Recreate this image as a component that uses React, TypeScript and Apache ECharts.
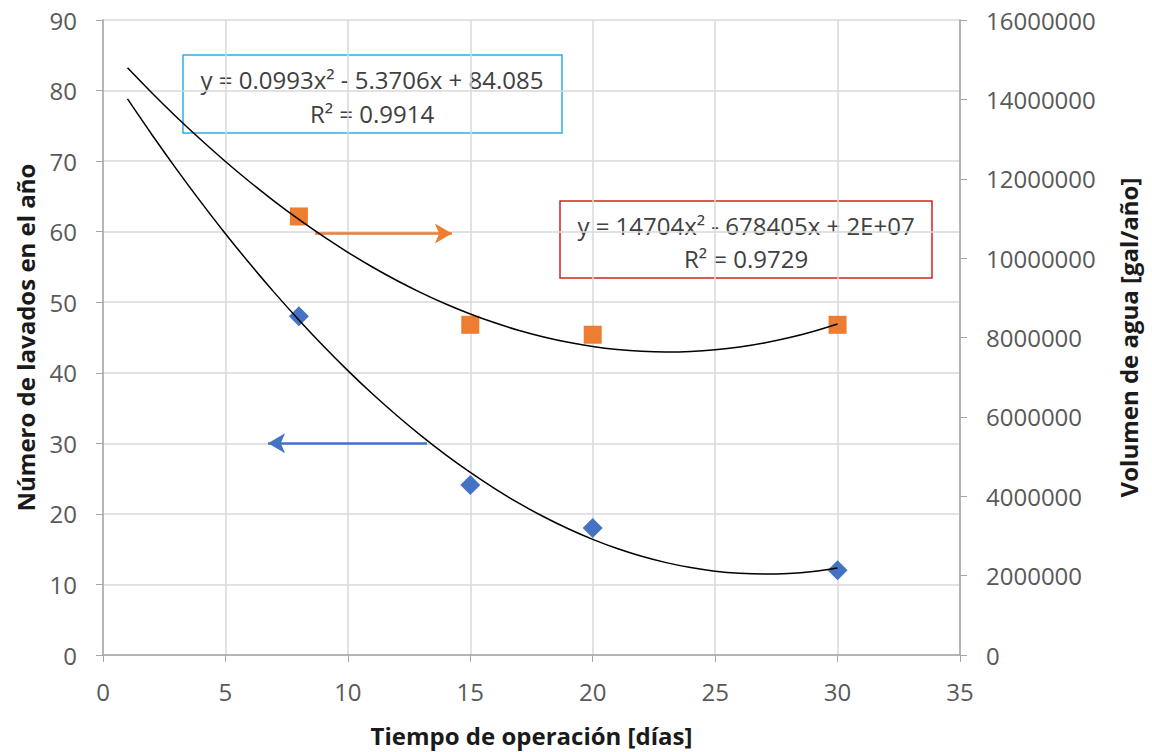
import React, { useEffect, useRef } from "react";
import * as echarts from "echarts";

const xTicks = [0, 5, 10, 15, 20, 25, 30, 35];
const diasLavados = [8, 15, 20, 30];
const lavados = [48, 24.1, 18, 12];
const diasVolumen = [8, 15, 20, 30];
const volumen = [11050000, 8320000, 8070000, 8320000];

// trend line points (days 1..30)
const trendX = [1, 2, 3, 4, 5, 6, 7, 8, 9, 10, 11, 12, 13, 14, 15, 16, 17, 18, 19, 20, 21, 22, 23, 24, 25, 26, 27, 28, 29, 30];
const trendLavados = [
  78.81, 73.74, 68.87, 64.19, 59.71, 55.44, 51.36, 47.48, 43.79, 40.31,
  37.02, 33.94, 31.05, 28.36, 25.87, 23.58, 21.48, 19.59, 17.89, 16.39,
  15.09, 13.99, 13.09, 12.39, 11.88, 11.58, 11.47, 11.56, 11.85, 12.34,
];
const trendVolumen = [
  14796300, 14162000, 13557100, 12981600, 12435600, 11918900, 11431700, 10973800, 10545400, 10146400,
  9776700, 9436500, 9125700, 8844300, 8592300, 8369700, 8176600, 8012800, 7878400, 7773500,
  7698000, 7651800, 7635100, 7647800, 7689900, 7761400, 7862300, 7992600, 8152300, 8341500,
];

const eq1 = ["y = 0.0993x² - 5.3706x + 84.085", "R² = 0.9914"];
const eq2 = ["y = 14704x² - 678405x + 2E+07", "R² = 0.9729"];

const arrowLavados = [[13.23, 30], [6.74, 30]];
const arrowVolumen = [[8.66, 10620000], [14.25, 10620000]];

const GRID_LINE = "#d9d9d9";
const AXIS_LINE = "#a6a6a6";
const LABEL = "#595959";

export default function App() {
  const ref = useRef<HTMLDivElement>(null);
  useEffect(() => {
    if (!ref.current) return;
    const chart = echarts.init(ref.current, undefined, { renderer: "svg" });
    const tickFont = { color: LABEL, fontFamily: "Open Sans", fontSize: 24 };
    const nameFont = { color: "#1a1a1a", fontFamily: "Open Sans", fontWeight: "bold" as const, fontSize: 24 };
    const eqFont = "24px 'Open Sans'";
    chart.setOption({
      animation: false,
      backgroundColor: "#ffffff",
      grid: { left: 103, right: 192, top: 20, bottom: 97, containLabel: false },
      xAxis: {
        type: "value",
        min: 0,
        max: 35,
        interval: 5,
        name: "Tiempo de operación [días]",
        nameLocation: "middle",
        nameGap: 68,
        nameTextStyle: nameFont,
        axisLine: { show: true, onZero: false, lineStyle: { color: AXIS_LINE, width: 1.5 } },
        axisTick: { show: true, length: 7, lineStyle: { color: AXIS_LINE } },
        axisLabel: {
          ...tickFont,
          margin: 24,
          formatter: (v: number) => (xTicks.includes(v) ? String(v) : ""),
        },
        splitLine: { show: true, lineStyle: { color: GRID_LINE, width: 1.5 } },
      },
      yAxis: [
        {
          type: "value",
          min: 0,
          max: 90,
          interval: 10,
          position: "left",
          name: "Número de lavados en el año",
          nameLocation: "middle",
          nameGap: 66,
          nameRotate: 90,
          nameTextStyle: nameFont,
          axisLine: { show: true, lineStyle: { color: AXIS_LINE, width: 1.5 } },
          axisTick: { show: true, length: 7, lineStyle: { color: AXIS_LINE } },
          axisLabel: { ...tickFont, margin: 26 },
          splitLine: { show: true, lineStyle: { color: GRID_LINE, width: 1.5 } },
        },
        {
          type: "value",
          min: 0,
          max: 16000000,
          interval: 2000000,
          position: "right",
          name: "Volumen de agua [gal/año]",
          nameLocation: "middle",
          nameGap: 156,
          nameRotate: 90,
          nameTextStyle: nameFont,
          axisLine: { show: true, lineStyle: { color: AXIS_LINE, width: 1.5 } },
          axisTick: { show: true, length: 7, lineStyle: { color: AXIS_LINE } },
          axisLabel: { ...tickFont, margin: 26, formatter: (v: number) => String(v) },
          splitLine: { show: false },
        },
      ],
      series: [
        {
          type: "scatter",
          yAxisIndex: 1,
          symbol: "rect",
          symbolSize: 18,
          itemStyle: { color: "#ED7D31", opacity: 1 },
          data: diasVolumen.map((d, i) => [d, volumen[i]]),
          markLine: {
            silent: true,
            symbol: ["none", "arrow"],
            symbolSize: [15, 17],
            label: { show: false },
            lineStyle: { color: "#ED7D31", width: 2.5, type: "solid", opacity: 1 },
            data: [[{ coord: arrowVolumen[0] }, { coord: arrowVolumen[1] }]],
          },
        },
        {
          type: "scatter",
          yAxisIndex: 0,
          symbol: "diamond",
          symbolSize: 20,
          itemStyle: { color: "#4472C4", opacity: 1 },
          data: diasLavados.map((d, i) => [d, lavados[i]]),
          markLine: {
            silent: true,
            symbol: ["none", "arrow"],
            symbolSize: [15, 17],
            label: { show: false },
            lineStyle: { color: "#4472C4", width: 2.5, type: "solid", opacity: 1 },
            data: [[{ coord: arrowLavados[0] }, { coord: arrowLavados[1] }]],
          },
        },
        {
          type: "line",
          yAxisIndex: 1,
          smooth: 0.3,
          showSymbol: false,
          symbol: "none",
          lineStyle: { color: "#000000", width: 1.5 },
          data: trendX.map((x, i) => [x, trendVolumen[i]]),
          z: 5,
        },
        {
          type: "line",
          yAxisIndex: 0,
          smooth: 0.3,
          showSymbol: false,
          symbol: "none",
          lineStyle: { color: "#000000", width: 1.5 },
          data: trendX.map((x, i) => [x, trendLavados[i]]),
          z: 5,
        },
      ],
      graphic: [
        {
          type: "group",
          z: 100,
          children: [
            { type: "rect", shape: { x: 183, y: 55, width: 379, height: 78 }, style: { fill: "#ffffff", stroke: "#29B0E6", lineWidth: 1.5 } },
            { type: "text", x: 372, y: 79, style: { text: eq1[0], fill: "#404040", font: eqFont, textAlign: "center", textVerticalAlign: "middle" } },
            { type: "text", x: 372, y: 113, style: { text: eq1[1], fill: "#404040", font: eqFont, textAlign: "center", textVerticalAlign: "middle" } },
          ],
        },
        {
          type: "group",
          z: 100,
          children: [
            { type: "rect", shape: { x: 560, y: 201, width: 372, height: 77 }, style: { fill: "#ffffff", stroke: "#D42222", lineWidth: 1.5 } },
            { type: "text", x: 746, y: 225, style: { text: eq2[0], fill: "#404040", font: eqFont, textAlign: "center", textVerticalAlign: "middle" } },
            { type: "text", x: 746, y: 258, style: { text: eq2[1], fill: "#404040", font: eqFont, textAlign: "center", textVerticalAlign: "middle" } },
          ],
        },
      ],
    });
    return () => chart.dispose();
  }, []);
  return <div ref={ref} style={{ position: "fixed", left: 0, top: 0, width: 1152, height: 752, background: "#fff" }} />;
}
